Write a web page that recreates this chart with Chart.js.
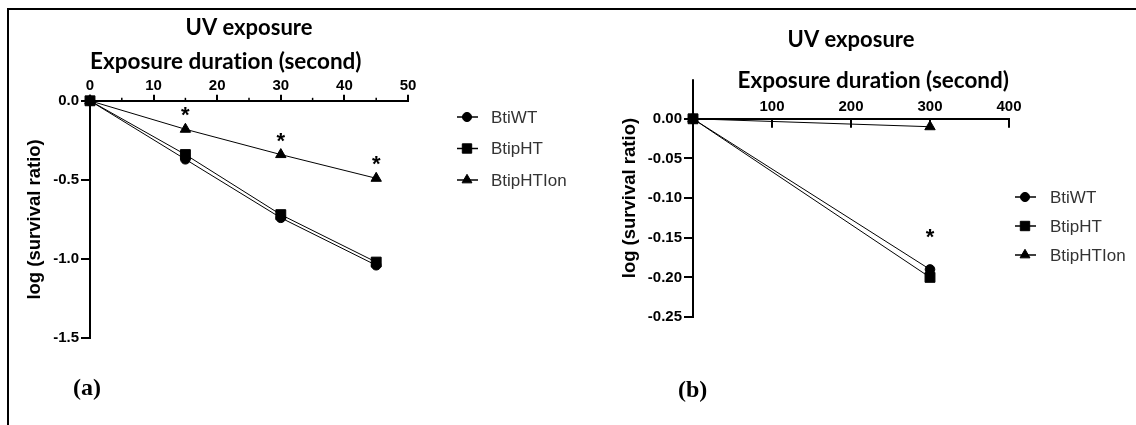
<!DOCTYPE html>
<html>
<head>
<meta charset="utf-8">
<script src="https://cdn.jsdelivr.net/npm/chart.js@4.4.0/dist/chart.umd.min.js"></script>
<style>
  body { margin: 0; background: #fff; width: 1136px; height: 425px; overflow: hidden; position: relative; }
  #frame { position: absolute; left: 7px; top: 8px; width: 1140px; height: 430px; border-top: 2px solid #000; border-left: 2px solid #000; }
  .wrap { position: absolute; top: 0; height: 425px; }
  #wrapA { left: 0; width: 600px; }
  #wrapB { left: 560px; width: 576px; }
  .tag { position: absolute; font: bold 24px "Liberation Serif", "Times New Roman", serif; color: #000; }
</style>
</head>
<body>
<div id="frame"></div>
<div class="wrap" id="wrapA"><canvas id="chartA"></canvas></div>
<div class="wrap" id="wrapB"><canvas id="chartB"></canvas></div>
<div class="tag" style="left:73px;top:374px">(a)</div>
<div class="tag" style="left:678px;top:376px">(b)</div>

<script>
// series names and marker shapes
var seriesNames = ["BtiWT", "BtipHT", "BtipHTIon"];
var markers = ["circle", "rect", "triangle"];
var markerSize = [4.8, 7, 6];

// (a) short exposure, seconds
var timeA = [0, 15, 30, 45];
var wtA = [0, -0.37, -0.74, -1.04];
var htA = [0, -0.34, -0.72, -1.02];
var ionA = [0, -0.18, -0.34, -0.49];
var sigA = [15, 30, 45];
var xTicksA = [0, 10, 20, 30, 40, 50];
var xMinorA = [5, 15, 25, 35, 45];
var yTicksA = [0, -0.5, -1.0, -1.5];

// (b) long exposure, seconds
var timeB = [0, 300];
var wtB = [0, -0.19];
var htB = [0, -0.20];
var ionB = [0, -0.01];
var sigB = [300];
var xTicksB = [100, 200, 300, 400];
var yTicksB = [0, -0.05, -0.10, -0.15, -0.20, -0.25];

Chart.defaults.font.family = "'Liberation Sans', Arial, sans-serif";
Chart.defaults.color = "#000";

var headFont = { family: "Lato, 'Open Sans', sans-serif", size: 22.5, weight: "bold", lineHeight: 1.2 };
var topFont = { family: "Lato, 'Open Sans', sans-serif", size: 22, weight: "bold", lineHeight: 1.2 };

function makeSets(xs, lists) {
  return lists.map(function (vals, i) {
    return {
      label: seriesNames[i],
      data: vals.map(function (v, j) { return { x: xs[j], y: v }; }),
      borderColor: "#000",
      backgroundColor: "#000",
      borderWidth: 1,
      pointStyle: markers[i],
      pointRadius: markerSize[i],
      pointHoverRadius: markerSize[i],
      pointBorderWidth: 1,
      clip: false
    };
  });
}

// legend, asterisks and the extra axis marks
var extras = {
  id: "extras",
  beforeDraw: function (chart) {
    chart.ctx.textRendering = "optimizeSpeed";
  },
  afterDraw: function (chart, args, o) {
    var ctx = chart.ctx, xs = chart.scales.x, ys = chart.scales.y;
    var area = chart.chartArea;
    ctx.save();
    ctx.strokeStyle = "#000";
    ctx.fillStyle = "#000";

    // small ticks between the labelled ones
    ctx.lineWidth = 1.5;
    (o.minor || []).forEach(function (v) {
      var px = xs.getPixelForValue(v);
      ctx.beginPath();
      ctx.moveTo(px, area.top);
      ctx.lineTo(px, area.top - 3);
      ctx.stroke();
    });

    // ticks hanging below the axis
    ctx.lineWidth = 2;
    (o.downTicks || []).forEach(function (v) {
      var px = Math.round(xs.getPixelForValue(v));
      ctx.beginPath();
      ctx.moveTo(px, area.top);
      ctx.lineTo(px, area.top + 9);
      ctx.stroke();
    });

    // y axis continues above zero, its title centred on the whole line
    if (o.stub) {
      var topPx = ys.getPixelForValue(o.stub);
      ctx.beginPath();
      ctx.moveTo(area.left, area.top);
      ctx.lineTo(area.left, topPx);
      ctx.stroke();
      ctx.save();
      ctx.translate(o.yTitle.x, (topPx + area.bottom) / 2);
      ctx.rotate(-Math.PI / 2);
      ctx.font = "bold " + o.yTitle.size + "px 'Liberation Sans', Arial, sans-serif";
      ctx.textAlign = "center";
      ctx.textBaseline = "middle";
      ctx.fillText(o.yTitle.text, 0, 0);
      ctx.restore();
    }

    // significance marks
    ctx.font = "bold 22px 'Liberation Sans', Arial, sans-serif";
    ctx.textAlign = "center";
    ctx.textBaseline = "middle";
    var ref = chart.data.datasets[o.over].data;
    o.sig.forEach(function (t) {
      var pt = ref.find(function (p) { return p.x === t; });
      ctx.fillText("*", xs.getPixelForValue(t), ys.getPixelForValue(pt.y) - o.gap);
    });

    // legend
    ctx.font = "17px 'Liberation Sans', Arial, sans-serif";
    ctx.textAlign = "left";
    chart.data.datasets.forEach(function (ds, i) {
      var y = o.legend.y + i * o.legend.dy;
      var x = o.legend.x;
      ctx.strokeStyle = "#000";
      ctx.fillStyle = "#000";
      ctx.lineWidth = 1.5;
      ctx.beginPath();
      ctx.moveTo(x - 10, y);
      ctx.lineTo(x + 11, y);
      ctx.stroke();
      ctx.lineWidth = 1;
      Chart.helpers.drawPoint(ctx, { pointStyle: ds.pointStyle, radius: ds.pointRadius * 0.95, rotation: 0, borderWidth: 1 }, x, y);
      ctx.fillStyle = "#333";
      ctx.fillText(ds.label, o.legend.tx, y + 1);
    });
    ctx.restore();
  }
};

function axisBase() {
  return {
    type: "linear",
    grid: { drawOnChartArea: false, color: "#000", lineWidth: 2 },
    border: { color: "#000", width: 2 },
    ticks: { font: { size: 15, weight: "bold" } }
  };
}

// (a)
var xA = axisBase();
xA.position = "top"; xA.min = 0; xA.max = 50;
xA.grid.tickLength = 6;
xA.ticks.padding = 0;
xA.afterBuildTicks = function (s) { s.ticks = xTicksA.map(function (v) { return { value: v }; }); };
xA.afterFit = function (s) { s.height = 59.8; };
xA.title = { display: true, text: "Exposure duration (second)", align: "start",
  font: headFont, padding: { top: 7, bottom: 0 } };

var yA = axisBase();
yA.position = "left"; yA.min = -1.5; yA.max = 0;
yA.grid.tickLength = 9;
yA.ticks.padding = 2;
yA.ticks.callback = function (v) { return v.toFixed(1); };
yA.afterBuildTicks = function (s) { s.ticks = yTicksA.map(function (v) { return { value: v }; }); };
yA.afterFit = function (s) { s.width = 90; };
yA.title = { display: true, text: "log (survival ratio)",
  font: { size: 18.5, weight: "bold", lineHeight: 1.2 }, padding: { top: 23.5, bottom: 0 } };

new Chart(document.getElementById("chartA"), {
  type: "line",
  data: { datasets: makeSets(timeA, [wtA, htA, ionA]) },
  options: {
    responsive: true, maintainAspectRatio: false, animation: false,
    layout: { padding: { top: 0, left: 0, right: 192, bottom: 87 } },
    scales: { x: xA, y: yA },
    plugins: {
      legend: { display: false },
      tooltip: { enabled: false },
      title: { display: true, text: "UV exposure", fullSize: false, color: "#000",
        font: topFont, padding: { top: 14.6, bottom: 0 } },
      extras: { minor: xMinorA, sig: sigA, over: 2, gap: 13,
        legend: { x: 467, y: 117, dy: 31.5, tx: 491 } }
    }
  },
  plugins: [extras]
});

// (b)
var xB = axisBase();
xB.position = "top"; xB.min = 0; xB.max = 400;
xB.grid.drawTicks = false;
xB.ticks.padding = 3;
xB.afterBuildTicks = function (s) { s.ticks = xTicksB.map(function (v) { return { value: v }; }); };
xB.afterFit = function (s) { s.height = 65.4; };
xB.title = { display: true, text: "Exposure duration (second)", align: "end",
  font: headFont, padding: { top: 13.5, bottom: 0 } };

var yB = axisBase();
yB.position = "left"; yB.min = -0.25; yB.max = 0;
yB.grid.tickLength = 9;
yB.ticks.padding = 2;
yB.ticks.callback = function (v) { return v.toFixed(2); };
yB.afterBuildTicks = function (s) { s.ticks = yTicksB.map(function (v) { return { value: v }; }); };
yB.afterFit = function (s) { s.width = 133; };

new Chart(document.getElementById("chartB"), {
  type: "line",
  data: { datasets: makeSets(timeB, [wtB, htB, ionB]) },
  options: {
    responsive: true, maintainAspectRatio: false, animation: false,
    layout: { padding: { top: 0, left: 0, right: 127, bottom: 108 } },
    scales: { x: xB, y: yB },
    plugins: {
      legend: { display: false },
      tooltip: { enabled: false },
      title: { display: true, text: "UV exposure", fullSize: false, color: "#000",
        font: topFont, padding: { top: 27, bottom: 0 } },
      extras: { downTicks: xTicksB, stub: 0.05, sig: sigB, over: 0, gap: 31,
        yTitle: { text: "log (survival ratio)", x: 70, size: 18.5 },
        legend: { x: 465, y: 197, dy: 29, tx: 490 } }
    }
  },
  plugins: [extras]
});
</script>
</body>
</html>
